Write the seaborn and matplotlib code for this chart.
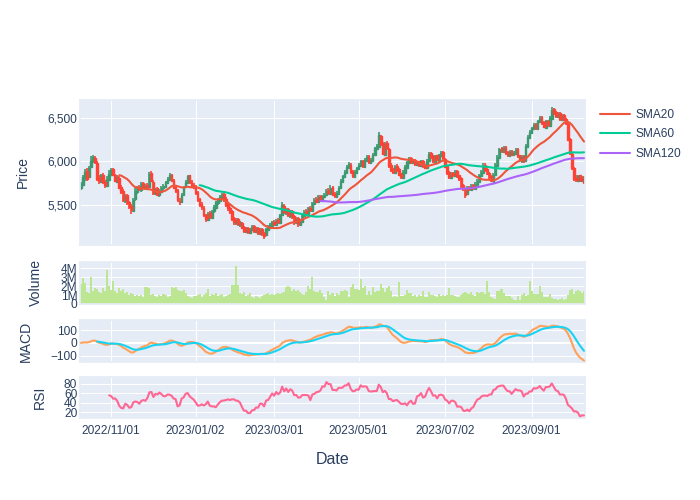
import numpy as np
import pandas as pd
import matplotlib
matplotlib.use("Agg")
import matplotlib.pyplot as plt
from matplotlib.lines import Line2D
import seaborn as sns

# trading calendar: weekdays minus exchange holidays
holidays = ["2022-11-24", "2022-12-26", "2023-01-02", "2023-01-16", "2023-02-20",
            "2023-04-07", "2023-05-29", "2023-06-19", "2023-07-04", "2023-09-04"]
dates = pd.bdate_range("2022-10-11", "2023-10-10")
dates = dates[~dates.isin(pd.to_datetime(holidays))]

# OHLC (one row per month)
open_price = [
    5690, 5730, 5810, 5890, 5820, 5940, 6000, 6040, 5980, 5820, 5770, 5850, 5770, 5720, 5790,
    5850, 5910, 5840, 5770, 5810, 5710, 5660, 5550, 5610, 5530, 5490, 5430, 5570, 5650, 5710, 5670, 5750, 5690, 5730, 5710, 5870,
    5770, 5630, 5690, 5610, 5650, 5690, 5710, 5750, 5790, 5840, 5790, 5710, 5670, 5550, 5540, 5610, 5710, 5750, 5840, 5770, 5730,
    5710, 5650, 5570, 5510, 5470, 5390, 5330, 5410, 5350, 5430, 5470, 5520, 5550, 5580, 5630, 5570, 5510, 5470, 5430, 5350,
    5290, 5340, 5270, 5290, 5250, 5190, 5240, 5180, 5210, 5260, 5190, 5240, 5170, 5220, 5180, 5150, 5210, 5240, 5260,
    5310, 5270, 5330, 5290, 5390, 5490, 5410, 5450, 5370, 5430, 5370, 5290, 5350, 5270, 5310, 5370, 5430, 5390, 5470, 5430, 5510, 5570, 5530,
    5600, 5550, 5590, 5610, 5670, 5630, 5710, 5630, 5590, 5630, 5690, 5770, 5820, 5870, 5930, 5960, 5890, 5820, 5870,
    5910, 5950, 6010, 5940, 6010, 6060, 5980, 6010, 6070, 6140, 6170, 6290, 6210, 6080, 6210, 6140, 5960, 5910, 5870, 5950, 5910, 5860,
    5810, 5870, 5930, 5980, 6040, 5980, 6020, 5960, 6000, 5950, 6010, 5960, 5920, 6000, 6100, 6060, 5990, 6070, 6010, 6060, 6110,
    6030, 5950, 5880, 5810, 5870, 5830, 5890, 5840, 5810, 5730, 5690, 5630, 5710, 5670, 5730, 5680, 5730, 5770, 5830, 5870,
    5960, 5910, 5870, 5830, 5770, 5840, 5950, 6040, 6150, 6110, 6170, 6110, 6060, 6120, 6070, 6090, 6140, 6070, 6010, 6060, 6010, 6170, 6270,
    6330, 6370, 6430, 6370, 6450, 6510, 6450, 6390, 6470, 6410, 6490, 6600, 6570, 6510, 6560, 6480, 6540, 6490, 6430, 6260,
    6090, 5930, 5810, 5780, 5840, 5780, 5820,
]
high_price = [
    5770, 5840, 5910, 5920, 5950, 6060, 6080, 6060, 6000, 5850, 5860, 5870, 5790, 5830, 5900,
    5920, 5930, 5860, 5850, 5830, 5730, 5680, 5630, 5630, 5550, 5510, 5580, 5690, 5720, 5730, 5760, 5770, 5740, 5750, 5880, 5890,
    5790, 5700, 5710, 5680, 5720, 5740, 5780, 5820, 5870, 5860, 5800, 5720, 5680, 5580, 5640, 5720, 5790, 5850, 5850, 5790, 5750,
    5730, 5660, 5580, 5530, 5490, 5400, 5420, 5430, 5440, 5500, 5550, 5580, 5610, 5640, 5650, 5590, 5520, 5480, 5440, 5360,
    5350, 5350, 5320, 5300, 5260, 5250, 5250, 5240, 5270, 5270, 5250, 5250, 5230, 5230, 5190, 5240, 5270, 5290, 5320,
    5330, 5340, 5350, 5400, 5540, 5510, 5460, 5460, 5440, 5440, 5380, 5360, 5360, 5340, 5400, 5440, 5450, 5480, 5490, 5540, 5580, 5590, 5610,
    5620, 5620, 5640, 5680, 5690, 5730, 5720, 5650, 5660, 5720, 5800, 5850, 5900, 5960, 5990, 5980, 5900, 5900, 5940,
    5980, 6020, 6020, 6040, 6070, 6070, 6040, 6100, 6170, 6200, 6340, 6310, 6220, 6220, 6230, 6150, 5980, 5930, 5960, 5970, 5920, 5870,
    5900, 5960, 6010, 6050, 6050, 6030, 6030, 6010, 6010, 6020, 6020, 5970, 6030, 6110, 6110, 6070, 6080, 6080, 6090, 6120, 6120,
    6040, 5960, 5890, 5880, 5880, 5900, 5900, 5850, 5820, 5740, 5700, 5720, 5720, 5740, 5740, 5760, 5800, 5860, 5900, 5980,
    5980, 5920, 5880, 5840, 5870, 5980, 6070, 6160, 6170, 6180, 6180, 6120, 6130, 6130, 6120, 6150, 6150, 6080, 6070, 6070, 6200, 6300, 6360,
    6400, 6440, 6440, 6480, 6520, 6520, 6460, 6480, 6480, 6520, 6630, 6620, 6580, 6570, 6570, 6550, 6550, 6500, 6440, 6270,
    6100, 5940, 5840, 5850, 5850, 5830, 5830,
]
low_price = [
    5670, 5720, 5780, 5780, 5810, 5920, 5980, 5970, 5780, 5740, 5750, 5740, 5700, 5710, 5780,
    5830, 5830, 5760, 5750, 5680, 5630, 5540, 5520, 5500, 5450, 5400, 5420, 5550, 5630, 5660, 5650, 5680, 5670, 5680, 5700, 5760,
    5620, 5610, 5600, 5590, 5640, 5670, 5700, 5740, 5780, 5760, 5680, 5640, 5540, 5500, 5520, 5600, 5690, 5740, 5740, 5700, 5680,
    5620, 5540, 5480, 5440, 5360, 5310, 5320, 5340, 5340, 5410, 5460, 5500, 5540, 5570, 5540, 5480, 5430, 5400, 5320, 5270,
    5270, 5260, 5250, 5220, 5180, 5180, 5170, 5170, 5200, 5180, 5180, 5160, 5150, 5140, 5110, 5140, 5200, 5230, 5250,
    5260, 5260, 5280, 5280, 5380, 5400, 5390, 5360, 5350, 5340, 5270, 5280, 5250, 5260, 5300, 5360, 5380, 5380, 5420, 5420, 5500, 5520, 5520,
    5540, 5540, 5580, 5600, 5620, 5620, 5600, 5580, 5580, 5620, 5680, 5760, 5810, 5860, 5920, 5860, 5810, 5810, 5860,
    5900, 5940, 5930, 5930, 6000, 5970, 5970, 6000, 6060, 6130, 6160, 6180, 6070, 6070, 6130, 5920, 5880, 5860, 5860, 5880, 5830, 5800,
    5800, 5860, 5920, 5970, 5970, 5970, 5950, 5950, 5940, 5940, 5930, 5910, 5910, 5990, 6030, 5980, 5980, 6000, 6000, 6050, 6020,
    5920, 5850, 5800, 5800, 5820, 5820, 5810, 5780, 5700, 5660, 5580, 5620, 5660, 5660, 5670, 5670, 5720, 5760, 5820, 5860,
    5880, 5840, 5800, 5760, 5760, 5830, 5940, 6030, 6100, 6100, 6080, 6050, 6050, 6060, 6060, 6080, 6040, 6000, 5980, 5980, 6000, 6160, 6260,
    6320, 6360, 6360, 6360, 6440, 6420, 6380, 6380, 6400, 6400, 6480, 6540, 6500, 6500, 6470, 6470, 6460, 6420, 6230, 6080,
    5900, 5780, 5760, 5770, 5770, 5760, 5740,
]
close_price = [
    5740, 5820, 5880, 5800, 5930, 6010, 6050, 5990, 5800, 5780, 5840, 5760, 5730, 5800, 5860,
    5900, 5850, 5780, 5820, 5700, 5650, 5560, 5600, 5520, 5480, 5440, 5560, 5660, 5700, 5680, 5740, 5700, 5720, 5700, 5860, 5780,
    5640, 5680, 5620, 5660, 5700, 5720, 5760, 5800, 5850, 5780, 5700, 5660, 5560, 5530, 5620, 5700, 5760, 5830, 5760, 5720, 5700,
    5640, 5560, 5500, 5480, 5380, 5340, 5400, 5360, 5420, 5480, 5530, 5560, 5590, 5620, 5560, 5500, 5460, 5420, 5340, 5300,
    5330, 5280, 5300, 5240, 5200, 5230, 5190, 5220, 5250, 5200, 5230, 5180, 5210, 5170, 5140, 5220, 5250, 5270, 5300,
    5280, 5320, 5300, 5380, 5500, 5420, 5440, 5380, 5420, 5360, 5300, 5340, 5280, 5320, 5380, 5420, 5400, 5460, 5440, 5520, 5560, 5540, 5590,
    5560, 5600, 5620, 5660, 5640, 5700, 5620, 5600, 5640, 5700, 5780, 5830, 5880, 5940, 5970, 5880, 5830, 5880, 5920,
    5960, 6000, 5950, 6020, 6050, 5990, 6020, 6080, 6150, 6180, 6300, 6200, 6090, 6200, 6150, 5950, 5900, 5880, 5940, 5900, 5850, 5820,
    5880, 5940, 5990, 6030, 5990, 6010, 5970, 5990, 5960, 6000, 5950, 5930, 6010, 6090, 6050, 6000, 6060, 6020, 6070, 6100, 6040,
    5940, 5870, 5820, 5860, 5840, 5880, 5830, 5800, 5720, 5680, 5620, 5700, 5680, 5720, 5690, 5740, 5780, 5840, 5880, 5950,
    5900, 5860, 5820, 5780, 5850, 5960, 6050, 6140, 6120, 6160, 6100, 6070, 6110, 6080, 6100, 6130, 6060, 6020, 6050, 6000, 6180, 6280, 6340,
    6380, 6420, 6380, 6460, 6500, 6440, 6400, 6460, 6420, 6500, 6590, 6560, 6520, 6550, 6490, 6530, 6480, 6440, 6250, 6100,
    5920, 5800, 5790, 5830, 5790, 5810, 5760,
]
# volume in millions
volume_m = [
    2.2, 2.9, 2.3, 1.3, 1.2, 3.0, 1.5, 1.8, 1.7, 1.3, 1.2, 1.8, 1.4, 3.8, 2.0,
    1.6, 2.6, 1.5, 1.2, 1.8, 1.4, 1.7, 1.2, 1.3, 1.0, 1.2, 1.1, 0.9, 1.0, 0.9, 1.0, 0.8, 1.9, 1.9, 1.8, 1.0,
    1.1, 0.9, 0.8, 1.0, 0.9, 1.1, 1.0, 0.8, 0.9, 1.9, 1.8, 1.9, 1.6, 1.5, 1.4, 1.6, 1.2, 0.9, 0.8, 0.7, 0.9,
    0.9, 1.0, 1.1, 0.8, 1.0, 1.2, 1.7, 0.9, 1.1, 1.0, 1.2, 0.9, 1.0, 1.1, 0.8, 0.9, 1.0, 1.1, 2.1, 2.1,
    4.3, 2.1, 1.2, 1.1, 1.3, 0.9, 1.0, 1.2, 0.8, 0.7, 0.9, 0.8, 0.7, 0.9, 1.0, 1.1, 1.2, 1.0, 1.1,
    1.0, 1.1, 1.2, 1.1, 1.2, 1.3, 1.9, 2.0, 1.9, 1.5, 1.7, 1.4, 1.6, 1.3, 1.1, 1.0, 1.3, 2.0, 1.7, 3.0, 1.5, 1.3, 1.3,
    1.6, 1.2, 0.8, 0.5, 1.5, 1.0, 1.2, 0.9, 1.2, 1.0, 1.4, 1.5, 1.6, 1.5, 0.8, 1.9, 2.2, 1.7, 1.7,
    1.6, 2.8, 1.8, 2.0, 1.0, 1.4, 1.0, 1.9, 1.3, 1.4, 1.5, 2.2, 1.8, 1.3, 1.8, 2.0, 1.5, 0.8, 0.9, 0.8, 2.5, 0.9,
    0.9, 1.0, 1.6, 1.2, 1.2, 0.9, 1.0, 0.8, 1.0, 0.9, 1.5, 0.8, 0.8, 1.3, 1.0, 1.0, 0.9, 0.8, 1.1, 0.9, 1.0,
    0.9, 1.0, 1.8, 1.0, 1.0, 0.9, 0.8, 0.8, 1.0, 1.2, 1.3, 1.2, 1.1, 1.3, 1.0, 0.9, 1.3, 1.2, 1.3, 1.3,
    1.1, 2.6, 1.3, 0.8, 0.7, 0.6, 1.4, 1.4, 1.7, 1.2, 0.9, 0.9, 0.9, 0.7, 0.5, 0.5, 0.9, 0.5, 1.0, 1.2, 0.9, 1.0, 2.6,
    1.5, 1.1, 1.1, 1.1, 2.0, 1.3, 0.8, 0.8, 0.8, 1.1, 0.7, 0.6, 0.6, 0.5, 0.6, 0.7, 0.5, 0.6, 1.0, 1.6,
    1.7, 1.1, 1.5, 1.6, 1.4, 1.2, 1.4,
]

tick_dates = ["2022-11-01", "2023-01-03", "2023-03-01", "2023-05-01", "2023-07-03", "2023-09-01"]
tick_labels = ["2022/11/01", "2023/01/02", "2023/03/01", "2023/05/01", "2023/07/02", "2023/09/01"]

df = pd.DataFrame({"Date": dates, "Open": open_price, "High": high_price,
                   "Low": low_price, "Close": close_price, "Volume": volume_m})
df["idx"] = np.arange(len(df))  # weekends/holidays collapsed, like rangebreaks

# indicators
df["SMA20"] = df["Close"].rolling(20).mean()
df["SMA60"] = df["Close"].rolling(60).mean()
df["SMA120"] = df["Close"].rolling(120).mean()
ema12 = df["Close"].ewm(span=12).mean()
ema26 = df["Close"].ewm(span=26).mean()
df["MACD"] = ema12 - ema26
df["Signal"] = df["MACD"].ewm(span=9, min_periods=9).mean()
delta = df["Close"].diff()
gain = delta.clip(lower=0).rolling(14).mean()
loss = (-delta.clip(upper=0)).rolling(14).mean()
df["RSI"] = 100 - 100 / (1 + gain / loss)

sns.set_theme(style="darkgrid", rc={"axes.facecolor": "#E5ECF6", "grid.color": "white",
                                    "grid.linewidth": 0.75, "axes.edgecolor": "#E5ECF6"})
plt.rcParams["font.family"] = ["Liberation Sans", "DejaVu Sans"]
txt = "#2a3f5f"

W, H = 700, 500
fig = plt.figure(figsize=(7, 5), dpi=100)


def panel(top, bottom, share=None):
    return fig.add_axes([80 / W, 1 - bottom / H, 505 / W, (bottom - top) / H], sharex=share)


ax_p = panel(100, 245)
ax_v = panel(262, 304, ax_p)
ax_m = panel(320, 362, ax_p)
ax_r = panel(377, 418, ax_p)

# candlesticks
up = df["Close"] >= df["Open"]
for mask, col in [(up, "#3D9970"), (~up, "#FF4136")]:
    d = df[mask]
    ax_p.vlines(d["idx"], d["Low"], d["High"], color=col, linewidth=1.2, zorder=2)
    ax_p.bar(d["idx"], (d["Close"] - d["Open"]).abs(), bottom=d[["Open", "Close"]].min(axis=1),
             width=0.75, color=col, edgecolor=col, linewidth=1.0, zorder=2)

sma_colors = {"SMA20": "#EF553B", "SMA60": "#00CC96", "SMA120": "#AB63FA"}
for name, col in sma_colors.items():
    sns.lineplot(data=df, x="idx", y=name, ax=ax_p, color=col, linewidth=1.5, legend=False, zorder=3)

# full-width, pixel-snapped bars avoid moire stripes at ~2 px per bar
ax_v.bar(df["idx"], df["Volume"], width=1.0, color="#BDE693", linewidth=0,
         antialiased=False, zorder=2)

ax_m.axhline(0, color="white", linewidth=1.5, zorder=1)
sns.lineplot(data=df, x="idx", y="MACD", ax=ax_m, color="#FFA15A", linewidth=1.5, legend=False, zorder=3)
sns.lineplot(data=df, x="idx", y="Signal", ax=ax_m, color="#19D3F3", linewidth=1.5, legend=False, zorder=3)

sns.lineplot(data=df, x="idx", y="RSI", ax=ax_r, color="#FF6692", linewidth=1.5, legend=False, zorder=3)

# axes
tick_pos = [dates.get_loc(pd.Timestamp(t)) for t in tick_dates]
ax_r.set_xlim(-0.5, len(df) - 0.5)
ax_r.set_xticks(tick_pos)
ax_r.set_xticklabels(tick_labels)

ax_p.set_ylim(5040, 6707)
ax_p.set_yticks([5500, 6000, 6500])
ax_p.set_yticklabels(["5,500", "6,000", "6,500"])
ax_v.set_ylim(0, 4.7)
ax_v.set_yticks([0, 1, 2, 3, 4])
ax_v.set_yticklabels(["0", "1M", "2M", "3M", "4M"])
ax_m.set_ylim(-149, 178)
ax_m.set_yticks([-100, 0, 100])
ax_m.set_yticklabels(["\u2212100", "0", "100"])
ax_r.set_ylim(7.3, 94.8)
ax_r.set_yticks([20, 40, 60, 80])

for ax, label in [(ax_p, "Price"), (ax_v, "Volume"), (ax_m, "MACD"), (ax_r, "RSI")]:
    ax.set_xlabel("")
    ax.set_ylabel(label, fontsize=10.1, color=txt, labelpad=12.5)
    ax.tick_params(axis="y", length=0, labelsize=8.6, colors=txt, pad=2)
    ax.tick_params(axis="x", length=0, labelsize=8.6, colors=txt, pad=5)
    ax.set_axisbelow(True)
    if ax is not ax_r:
        ax.tick_params(axis="x", labelbottom=False)

fig.text(332.5 / W, 1 - 460 / H, "Date", ha="center", va="center", fontsize=11.5, color=txt)

handles = [Line2D([], [], color=c, linewidth=1.5) for c in sma_colors.values()]
fig.legend(handles, list(sma_colors.keys()), loc="upper left", bbox_to_anchor=(600 / W, 1 - 109 / H),
           frameon=False, fontsize=8.6, handlelength=2.5, handletextpad=0.45, labelspacing=0.62,
           borderpad=0, borderaxespad=0, labelcolor=txt)

fig.savefig("out.png", dpi=100)
